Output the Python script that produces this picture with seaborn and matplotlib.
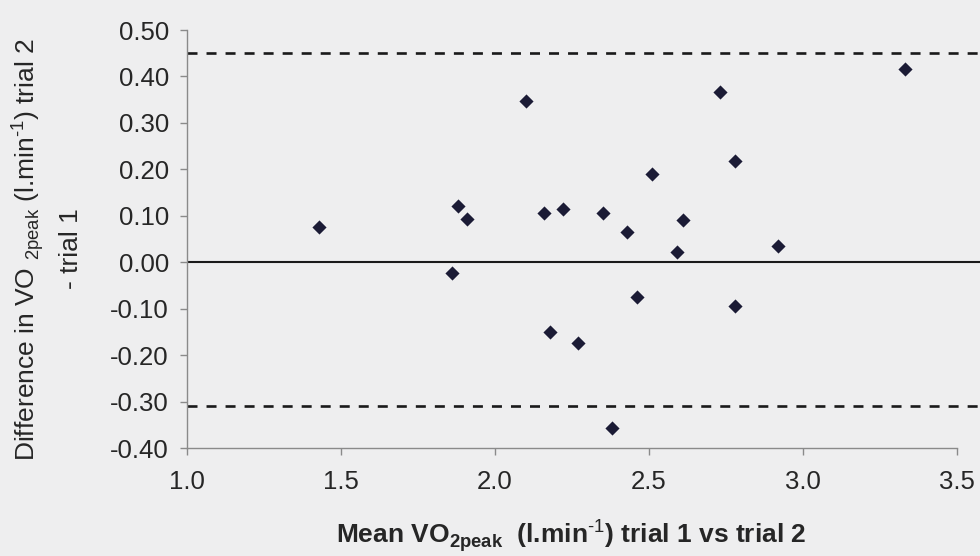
import matplotlib
matplotlib.use("Agg")
import matplotlib.pyplot as plt
import seaborn as sns
import pandas as pd

# Bland-Altman data: mean of the two trials vs. difference (trial 2 - trial 1)
mean_vo2 = [1.43, 1.88, 1.91, 1.86, 2.10, 2.16, 2.22, 2.35, 2.43, 2.51, 2.61,
            2.59, 2.73, 2.78, 2.92, 3.33, 2.18, 2.27, 2.46, 2.78, 2.38]
diff_vo2 = [0.075, 0.120, 0.092, -0.024, 0.348, 0.105, 0.114, 0.105, 0.064,
            0.189, 0.090, 0.023, 0.367, 0.219, 0.034, 0.416, -0.150, -0.174,
            -0.075, -0.094, -0.358]

zero_line = 0.0
upper_limit = 0.45
lower_limit = -0.31

x_ticks = [1.0, 1.5, 2.0, 2.5, 3.0, 3.5]
x_tick_labels = ["1.0", "1.5", "2.0", "2.5", "3.0", "3.5"]
y_ticks = [0.50, 0.40, 0.30, 0.20, 0.10, 0.00, -0.10, -0.20, -0.30, -0.40]
y_tick_labels = ["0.50", "0.40", "0.30", "0.20", "0.10", "0.00",
                 "-0.10", "-0.20", "-0.30", "-0.40"]

df = pd.DataFrame({"mean": mean_vo2, "diff": diff_vo2})

sns.set_theme(style="white")
bg = "#eeeeef"
text_col = "#262626"
plt.rcParams["font.family"] = ["Liberation Sans", "DejaVu Sans"]
plt.rcParams["mathtext.fontset"] = "custom"
plt.rcParams["mathtext.rm"] = "Liberation Sans"
plt.rcParams["mathtext.bf"] = "Liberation Sans:bold"
plt.rcParams["lines.scale_dashes"] = False

fig = plt.figure(figsize=(9.8, 5.56), dpi=100, facecolor=bg)
ax = fig.add_axes([187 / 980, 1 - 448 / 556, 1 - 187 / 980, (448 - 30) / 556])
ax.set_facecolor(bg)

ax.axhline(zero_line, color="#1a1a1a", lw=1.5, zorder=1)
ax.axhline(upper_limit, color="#1a1a1a", lw=1.9, linestyle=(0, (7.2, 6.5)), zorder=1)
ax.axhline(lower_limit, color="#1a1a1a", lw=1.9, linestyle=(0, (7.2, 6.5)), zorder=1)

sns.scatterplot(data=df, x="mean", y="diff", marker="D", s=52,
                color="#1b1b35", linewidth=0, ax=ax, zorder=3)

ax.set_xlim(1.0, 1.0 + (980 - 187) / 308)
ax.set_ylim(-0.40, 0.50)
ax.set_xticks(x_ticks)
ax.set_xticklabels(x_tick_labels)
ax.set_yticks(y_ticks)
ax.set_yticklabels(y_tick_labels)

for side in ("top", "right"):
    ax.spines[side].set_visible(False)
for side in ("left", "bottom"):
    ax.spines[side].set_color("#8a8a8a")
    ax.spines[side].set_linewidth(1.0)
ax.spines["bottom"].set_bounds(1.0, 3.5)

ax.tick_params(axis="both", which="major", direction="out", length=5,
               width=1.0, color="#8a8a8a", labelsize=18.5, labelcolor=text_col,
               left=True, bottom=True)
ax.tick_params(axis="y", pad=8)
ax.tick_params(axis="x", pad=11)
ax.set_xlabel("")
ax.set_ylabel("")

fig.text(571 / 980, 1 - 543 / 556,
         r"Mean VO$_{\mathbf{2peak}}$  (l.min$^{\mathbf{\text{-1}}}$) trial 1 vs trial 2",
         ha="center", va="baseline", fontsize=19, fontweight="bold", color=text_col)
fig.text(28 / 980, 1 - 250 / 556,
         r"Difference in VO $_{\mathrm{2peak}}$ (l.min$^{\text{-1}}$) trial 2",
         ha="center", va="center", rotation=90, fontsize=19, color=text_col)
fig.text(71 / 980, 1 - 249 / 556, "- trial 1",
         ha="center", va="center", rotation=90, fontsize=19, color=text_col)

fig.savefig("out.png", dpi=100, facecolor=bg)
